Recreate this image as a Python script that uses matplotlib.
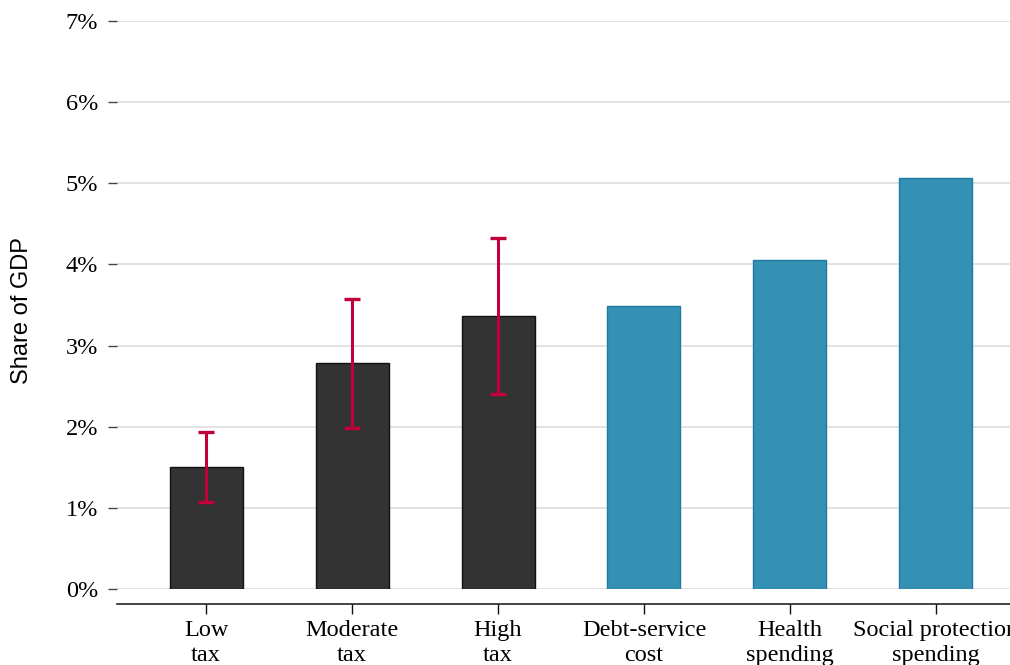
import matplotlib
matplotlib.use("Agg")
import matplotlib.pyplot as plt
from matplotlib.ticker import FuncFormatter

categories = ["Low\ntax", "Moderate\ntax", "High\ntax",
              "Debt-service\ncost", "Health\nspending", "Social protection\nspending"]
values = [1.50, 2.78, 3.36, 3.49, 4.05, 5.06]
err_low = [1.07, 1.99, 2.40]
err_high = [1.93, 3.58, 4.32]
y_ticks = [0, 1, 2, 3, 4, 5, 6, 7]

dark, blue = "#333333", "#3591b3"
bar_colors = [dark] * 3 + [blue] * 3
edge_colors = ["#111111"] * 3 + ["#1f7aa3"] * 3

fig = plt.figure(figsize=(10.10, 6.65), dpi=100)
ax = fig.add_axes([117 / 1010, 76 / 665, 908 / 1010, 568 / 665])

x = list(range(len(categories)))
ax.bar(x, values, width=0.5, color=bar_colors, edgecolor=edge_colors,
       linewidth=1.0, zorder=3)

yerr = [[v - lo for v, lo in zip(values[:3], err_low)],
        [hi - v for v, hi in zip(values[:3], err_high)]]
ax.errorbar(x[:3], values[:3], yerr=yerr, fmt="none", ecolor="#c2003a",
            elinewidth=2.2, capsize=5.5, capthick=2.4, zorder=4)

ax.set_xlim(-0.61, 5.61)
ax.set_ylim(0, 7.0)
ax.set_yticks(y_ticks)
ax.yaxis.set_major_formatter(FuncFormatter(lambda v, _: f"{v:.0f}%"))
ax.grid(axis="y", color="#dedede", linewidth=1.2, zorder=0)
ax.set_axisbelow(True)

for side in ("left", "right", "top"):
    ax.spines[side].set_visible(False)
ax.spines["bottom"].set_position(("outward", 11))
ax.spines["bottom"].set_linewidth(1.1)
ax.spines["bottom"].set_color("#111111")

ax.set_xticks(x)
ax.set_xticklabels(categories, family="Liberation Serif", fontsize=17.5,
                   linespacing=1.25, multialignment="center")
for lbl in ax.get_yticklabels():
    lbl.set_family("Liberation Serif")
    lbl.set_fontsize(17.5)
ax.tick_params(axis="y", length=6.5, width=1.0, color="#444444", pad=7)
ax.tick_params(axis="x", length=7, width=1.0, color="#111111", pad=4)

fig.text(22 / 1010, 1 - 311 / 665, "Share of GDP", rotation=90,
         ha="center", va="center", family="Liberation Sans", fontsize=17)

fig.savefig("out.png", dpi=100)
